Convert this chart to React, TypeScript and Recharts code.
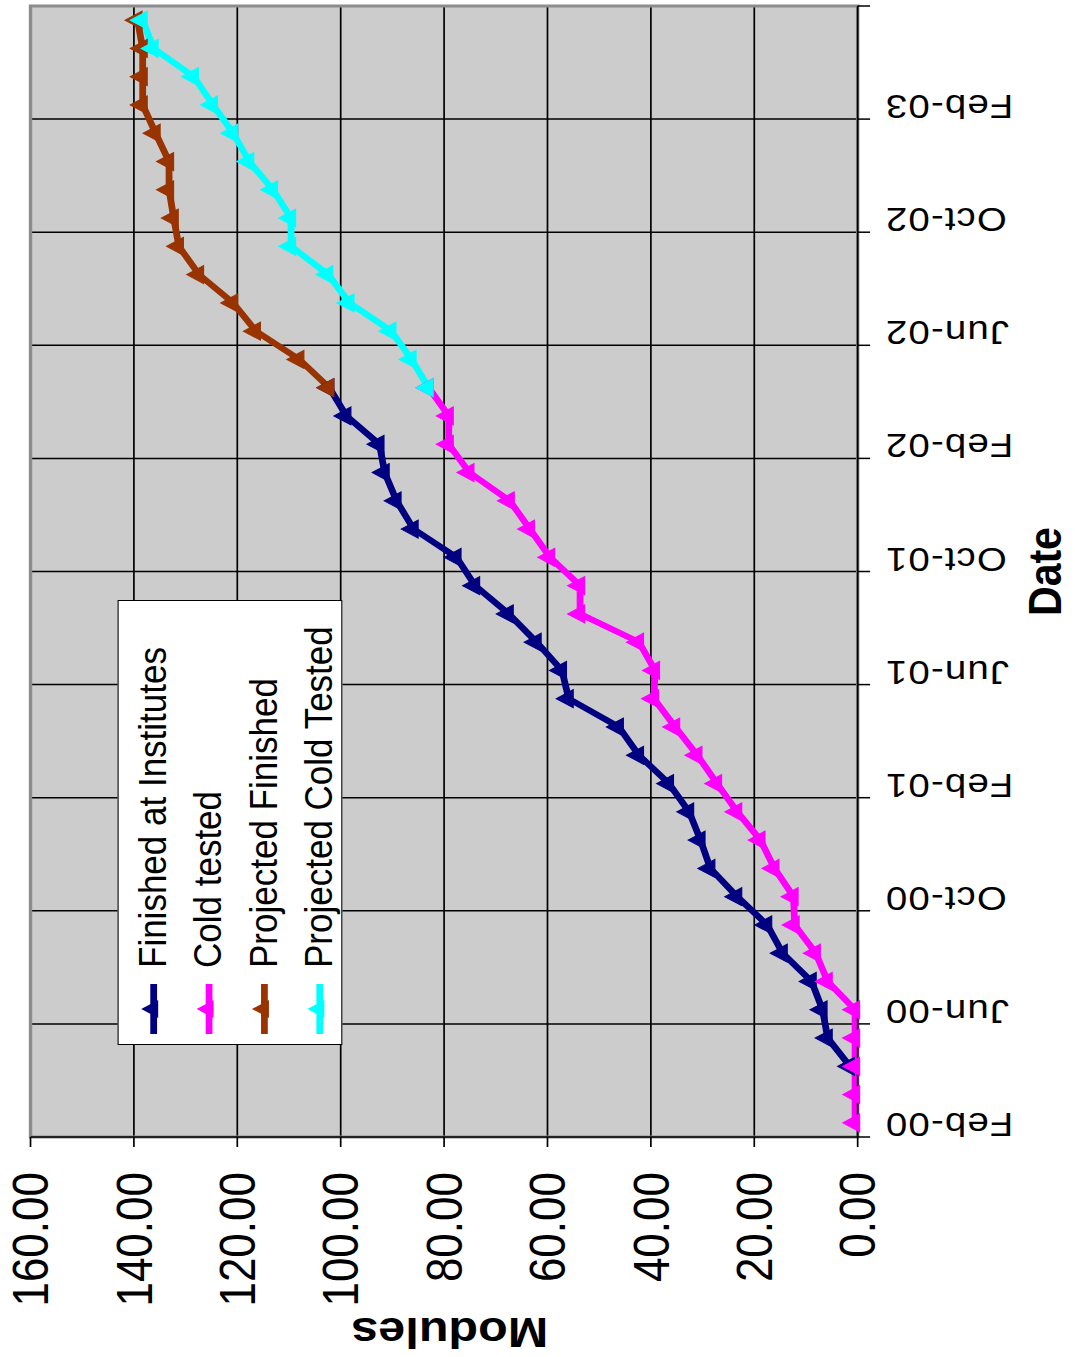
import React from 'react'
import { LineChart, Line, XAxis, YAxis, CartesianGrid, Legend, Label, ReferenceArea } from 'recharts'

// chart is drawn upright, then the whole thing is turned a quarter left (like the scan)
const W = 1357
const S = 1.13
const H = Math.round(1075 / S)
const FONT = '"Liberation Sans", Arial, sans-serif'

// months since Feb-00, one point per month
const months = [0.5, 1.5, 2.5, 3.5, 4.5, 5.5, 6.5, 7.5, 8.5, 9.5, 10.5, 11.5, 12.5, 13.5, 14.5, 15.5, 16.5, 17.5, 18.5, 19.5,
  20.5, 21.5, 22.5, 23.5, 24.5, 25.5, 26.5, 27.5, 28.5, 29.5, 30.5, 31.5, 32.5, 33.5, 34.5, 35.5, 36.5, 37.5, 38.5, 39.5]

const finished = [null, null, 1.5, 5.8, 6.8, 8.9, 14.5, 17.5, 23.3, 28.5, 30.4, 32.6, 36.5, 42.3, 46.2, 55.9, 57.2, 62.1, 67.5, 74.0,
  77.6, 85.9, 89.2, 91.5, 92.5, 98.9, 102.2]
const coldTested = [0.5, 0.5, 0.5, 0.5, 0.5, 5.8, 8.1, 12.2, 12.4, 16.1, 18.8, 23.3, 27.2, 31.0, 35.3, 39.4, 39.2, 42.3, 53.7, 53.7,
  59.5, 63.4, 67.3, 75.1, 79.1, 79.1, 83.0]
// projections start at month index 26
const projFinished = [102.2, 108.0, 116.4, 120.8, 127.4, 131.3, 132.3, 133.2, 133.2, 135.8, 138.3, 138.3, 138.3, 139.3]
const projCold = [83.0, 86.3, 90.2, 98.3, 102.4, 109.6, 109.6, 113.1, 117.7, 120.8, 124.7, 128.4, 136.2, 138.3]
const PROJ_START = 26

const dateTicks = [0, 4, 8, 12, 16, 20, 24, 28, 32, 36, 40]
const dateLabels = ['Feb-00', 'Jun-00', 'Oct-00', 'Feb-01', 'Jun-01', 'Oct-01', 'Feb-02', 'Jun-02', 'Oct-02', 'Feb-03', '']
const valueTicks = [0, 20, 40, 60, 80, 100, 120, 140, 160]

const series = [
  { key: 'finished', name: 'Finished at Institutes', color: '#000080' },
  { key: 'cold', name: 'Cold tested', color: '#FF00FF' },
  { key: 'projFinished', name: 'Projected Finished', color: '#993300' },
  { key: 'projCold', name: 'Projected Cold Tested', color: '#00FFFF' },
]

const rows = months.map((m, i) => ({
  x: m,
  finished: finished[i] ?? undefined,
  cold: coldTested[i] ?? undefined,
  projFinished: i >= PROJ_START ? projFinished[i - PROJ_START] : undefined,
  projCold: i >= PROJ_START ? projCold[i - PROJ_START] : undefined,
}))

const triPoints = (cx: number, cy: number) => `${cx},${cy - 11} ${cx + 9},${cy + 4} ${cx - 9},${cy + 4}`

const makeDot = (color: string) => (p: any) => {
  if (p.cx == null || p.cy == null || p.value == null) return <g key={p.key ?? p.index} />
  return <polygon key={p.key ?? p.index} points={triPoints(p.cx, p.cy)} fill={color} stroke={color} strokeWidth={1} />
}

const DateTick = (p: any) => {
  const i = dateTicks.indexOf(p.payload.value)
  const tx = p.x + 24
  const ty = p.y + 11
  return (
    <text x={tx} y={ty} transform={`rotate(-90, ${tx}, ${ty})`} textAnchor="end"
      fontSize={34} fontFamily={FONT} fill="#000" letterSpacing={1}>
      {dateLabels[i]}
    </text>
  )
}

const LegendBox = () => (
  <div style={{ width: 445, height: 199, boxSizing: 'border-box', background: '#fff', border: '1.5px solid #000',
    paddingTop: 5, fontFamily: FONT }}>
    {series.map((s) => (
      <div key={s.key} style={{ height: 49, display: 'flex', alignItems: 'center' }}>
        <svg width={70} height={30} style={{ marginLeft: 6, flex: 'none' }}>
          <line x1={4} y1={16} x2={54} y2={16} stroke={s.color} strokeWidth={6} />
          <polygon points={triPoints(29, 16)} fill={s.color} />
        </svg>
        <span style={{ fontSize: 35, color: '#000', whiteSpace: 'nowrap' }}>{s.name}</span>
      </div>
    ))}
  </div>
)

export default function App() {
  return (
    <div style={{ position: 'absolute', left: 0, top: 0, width: 1075, height: 1357, overflow: 'hidden', background: '#fff' }}>
      <div style={{ position: 'absolute', left: 0, top: 0, width: W, height: H, transformOrigin: '0 0',
        transform: `translateY(${W}px) rotate(-90deg) scale(1, ${S})` }}>
        <LineChart width={W} height={H} data={rows} margin={{ top: 27, right: 6, bottom: 0, left: 0 }}>
          <CartesianGrid stroke="#000" strokeWidth={1.5} fill="#cccccc" />
          <ReferenceArea x1={0} x2={40} y1={0} y2={160} fill="none" stroke="#8c8c8c" strokeWidth={3} ifOverflow="visible" />
          <XAxis dataKey="x" type="number" domain={[0, 40]} ticks={dateTicks} interval={0} height={192}
            tick={<DateTick />} tickSize={11} axisLine={{ stroke: '#000', strokeWidth: 1.5 }}
            tickLine={{ stroke: '#000', strokeWidth: 1.5 }} allowDataOverflow>
            <Label value="Date" position="insideBottom" offset={12} fontSize={41} fontWeight="bold" fontFamily={FONT} fill="#000" />
          </XAxis>
          <YAxis type="number" domain={[0, 160]} ticks={valueTicks} interval={0} width={220} tickSize={10} tickMargin={25}
            tick={{ fill: '#000', fontSize: 44, fontFamily: FONT }} tickFormatter={(v: number) => v.toFixed(2)}
            axisLine={{ stroke: '#000', strokeWidth: 1.5 }} tickLine={{ stroke: '#000', strokeWidth: 1.5 }}>
            <Label content={(p: any) => {
              const vb = p.viewBox || { y: 27, height: 732 }
              const cy = vb.y + vb.height / 2 + 5
              return (
                <text x={39} y={cy} transform={`rotate(-90, 39, ${cy})`} textAnchor="middle"
                  fontSize={43} fontWeight="bold" fontFamily={FONT} fill="#000">Modules</text>
              )
            }} />
          </YAxis>
          <Legend layout="vertical" align="center" verticalAlign="middle" content={<LegendBox />}
            wrapperStyle={{ left: 312, top: 104, width: 445, height: 199 }} />
          {series.map((s) => (
            <Line key={s.key} type="linear" dataKey={s.key} name={s.name} stroke={s.color} strokeWidth={6}
              dot={makeDot(s.color)} activeDot={false} isAnimationActive={false} connectNulls={false} />
          ))}
        </LineChart>
      </div>
    </div>
  )
}
